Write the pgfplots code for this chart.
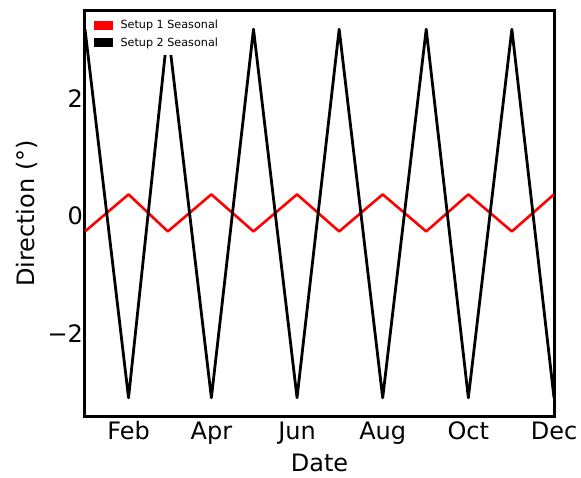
\documentclass[border=0pt]{standalone}
\usepackage{pgfplots}
\pgfplotsset{compat=1.18}
\usepackage{fontspec}
\setmainfont{DejaVu Sans}
\begin{document}
\begin{tikzpicture}
\begin{axis}[
  scale only axis, width=469pt, height=405pt,
  at={(0pt,0pt)}, anchor=south west,
  xmin=0, xmax=334, ymin=-3.40, ymax=3.49,
  xtick={31,90,151,212,273,334}, xticklabels={Feb,Apr,Jun,Aug,Oct,Dec},
  ytick={-2,0,2}, yticklabels={−2,0,2},
  major tick length=0pt,
  axis line style={line width=3pt},
  tick label style={font=\fontsize{24}{28}\selectfont},
  xticklabel style={yshift=-2pt},
  yticklabel style={xshift=1.5pt},
  label style={font=\fontsize{24}{28}\selectfont},
  xlabel=Date, ylabel={Direction (°)},
  xlabel style={yshift=-3pt},
  ylabel style={yshift=3pt},
  legend style={at={(0.0114,0.995)}, anchor=north west, draw=none, fill=white,
    font=\fontsize{11.2}{13}\selectfont, row sep=3.5pt, inner xsep=3pt, inner ysep=5pt},
  legend cell align=left,
]
\addplot[red, line width=2.6pt, line join=round,
  legend image code/.code={\fill[red, draw=none] (0pt,-4.5pt) rectangle (19pt,4.5pt);\path[draw=none] (0pt,0pt) -- (25pt,0pt);}]
  coordinates {(0,-0.26) (31,0.37) (59,-0.26) (90,0.37) (120,-0.26) (151,0.37)
    (181,-0.26) (212,0.37) (243,-0.26) (273,0.37) (304,-0.26) (334,0.37)};
\addlegendentry{Setup 1 Seasonal}
\addplot[black, line width=2.8pt, line join=round,
  legend image code/.code={\fill[black, draw=none] (0pt,-4.5pt) rectangle (19pt,4.5pt);\path[draw=none] (0pt,0pt) -- (25pt,0pt);}]
  coordinates {(0,3.18) (31,-3.09) (59,3.18) (90,-3.09) (120,3.18) (151,-3.09)
    (181,3.18) (212,-3.09) (243,3.18) (273,-3.09) (304,3.18) (334,-3.09)};
\addlegendentry{Setup 2 Seasonal}
\end{axis}
\pgfresetboundingbox
\path[use as bounding box] (-85pt,-61pt) rectangle (496pt,416pt);
\end{tikzpicture}
\end{document}
